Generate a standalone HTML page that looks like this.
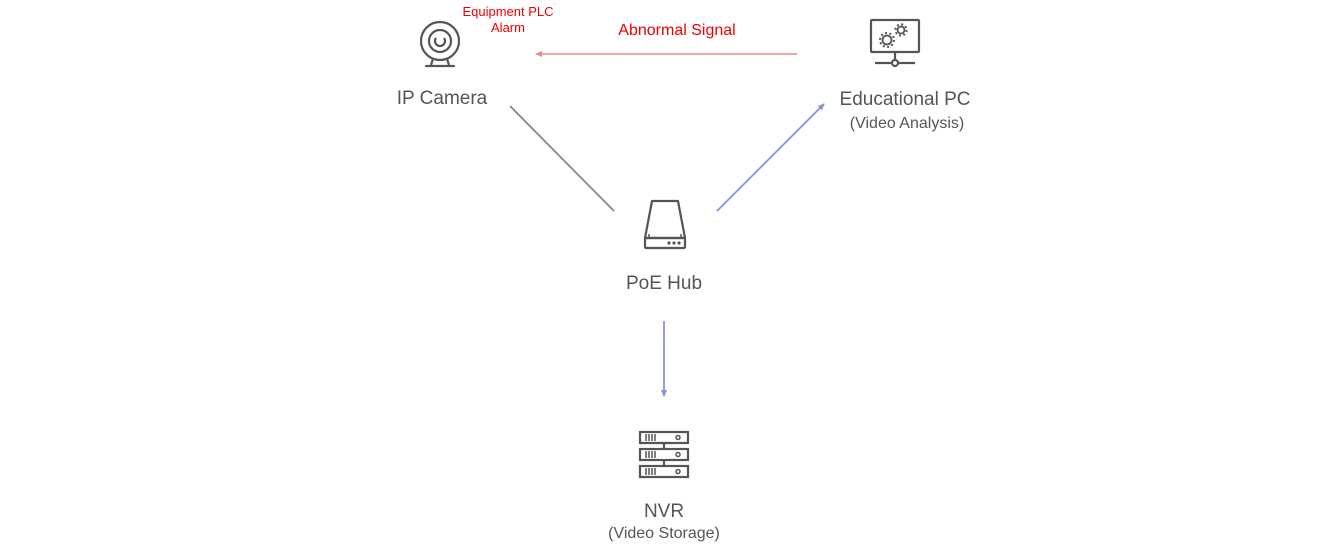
<!DOCTYPE html>
<html><head><style>body{margin:0;background:#fff}svg{display:block}text{font-family:"Liberation Sans",sans-serif}</style></head><body>
<svg width="1320" height="548" viewBox="0 0 1320 548">
<defs>
<marker id="ar" markerWidth="8" markerHeight="8" refX="6" refY="4" orient="auto" markerUnits="userSpaceOnUse"><path d="M0,1 L7,4 L0,7z" fill="#e88"/></marker>
<marker id="ab" markerWidth="8" markerHeight="8" refX="6" refY="4" orient="auto" markerUnits="userSpaceOnUse"><path d="M0,1 L7,4 L0,7z" fill="#8890dd"/></marker>
</defs>
<g fill="none" stroke="#555" stroke-width="2.2">
<!-- camera -->
<circle cx="440" cy="41" r="19"/><circle cx="440" cy="41" r="11"/><path d="M436,38 a5,5 0 1 0 8,0"/>
<path d="M433,59 L431,65 M447,59 L449,65"/><line x1="426" y1="66" x2="454" y2="66" stroke-linecap="round"/>
<!-- PC -->
<rect x="871" y="20" width="48" height="32" rx="1"/><line x1="895" y1="52" x2="895" y2="60"/><circle cx="895" cy="63" r="3"/><line x1="875" y1="63" x2="892" y2="63"/><line x1="898" y1="63" x2="915" y2="63"/>
<circle cx="887" cy="40" r="4.5" stroke-width="1.8"/><circle cx="901" cy="30" r="3.5" stroke-width="1.8"/>
<circle cx="887" cy="40" r="7" stroke-dasharray="2 2.4" stroke-width="2"/><circle cx="901" cy="30" r="5.6" stroke-dasharray="2 2.4" stroke-width="2"/>
<!-- hub -->
<path d="M652,201 L678,201 L685,238 L645,238 Z" stroke-linejoin="round"/><rect x="645" y="238" width="40" height="10" rx="1"/>
<!-- NVR -->
<rect x="640" y="432" width="48" height="11"/><rect x="640" y="449" width="48" height="11"/><rect x="640" y="466" width="48" height="11"/>
<line x1="664" y1="443" x2="664" y2="449"/><line x1="664" y1="460" x2="664" y2="466"/>
<circle cx="678" cy="437.5" r="2" stroke-width="1.5"/><circle cx="678" cy="454.5" r="2" stroke-width="1.5"/><circle cx="678" cy="471.5" r="2" stroke-width="1.5"/>
</g>
<g stroke="#555" stroke-width="1.5">
<line x1="646" y1="434" x2="646" y2="441"/><line x1="649" y1="434" x2="649" y2="441"/><line x1="652" y1="434" x2="652" y2="441"/><line x1="655" y1="434" x2="655" y2="441"/>
<line x1="646" y1="451" x2="646" y2="458"/><line x1="649" y1="451" x2="649" y2="458"/><line x1="652" y1="451" x2="652" y2="458"/><line x1="655" y1="451" x2="655" y2="458"/>
<line x1="646" y1="468" x2="646" y2="475"/><line x1="649" y1="468" x2="649" y2="475"/><line x1="652" y1="468" x2="652" y2="475"/><line x1="655" y1="468" x2="655" y2="475"/>
<line x1="651" y1="205" x2="651" y2="208"/><line x1="679" y1="205" x2="679" y2="208"/><line x1="649" y1="234" x2="649" y2="237"/><line x1="681" y1="234" x2="681" y2="237"/>
</g>
<g fill="#555"><circle cx="669" cy="243" r="1.6"/><circle cx="674" cy="243" r="1.6"/><circle cx="679" cy="243" r="1.6"/></g>
<!-- connectors -->
<line x1="797" y1="54" x2="536" y2="54" stroke="#e88" stroke-width="1.5" marker-end="url(#ar)"/>
<line x1="510" y1="106" x2="614" y2="211" stroke="#888" stroke-width="1.8"/>
<line x1="717" y1="211" x2="824" y2="104" stroke="#8890dd" stroke-width="1.8" marker-end="url(#ab)"/>
<line x1="664" y1="321" x2="664" y2="396" stroke="#8890dd" stroke-width="1.8" marker-end="url(#ab)"/>
<!-- text -->
<g fill="#e00" text-anchor="middle" font-size="13"><text x="508" y="16">Equipment PLC</text><text x="508" y="32">Alarm</text></g>
<text x="677" y="35" fill="#e00" text-anchor="middle" font-size="16">Abnormal Signal</text>
<g fill="#555" text-anchor="middle">
<text x="442" y="104" font-size="19">IP Camera</text>
<text x="905" y="105" font-size="19">Educational PC</text>
<text x="907" y="128" font-size="16">(Video Analysis)</text>
<text x="664" y="289" font-size="19">PoE Hub</text>
<text x="664" y="517" font-size="19">NVR</text>
<text x="664" y="538" font-size="16">(Video Storage)</text>
</g>
</svg>
</body></html>
